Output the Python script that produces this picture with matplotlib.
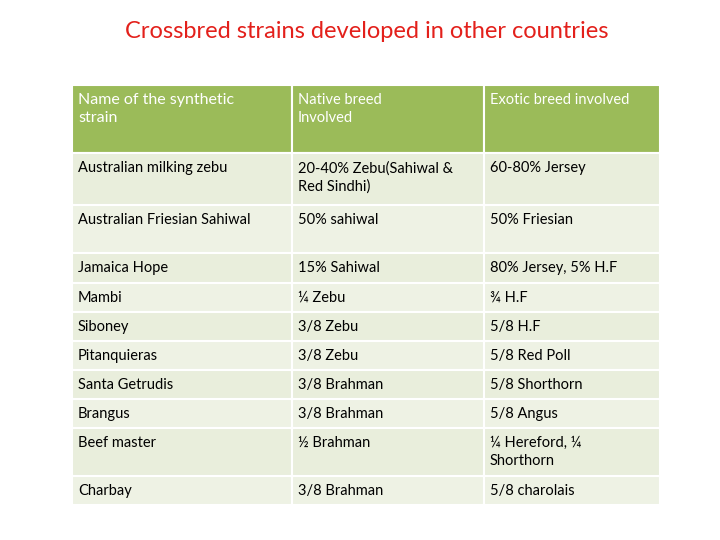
import matplotlib.pyplot as plt
from matplotlib.patches import Rectangle

title = 'Crossbred strains developed in other countries'
headers = ['Name of the synthetic\nstrain', 'Native breed\nInvolved', 'Exotic breed involved']
strains = ['Australian milking zebu', 'Australian Friesian Sahiwal', 'Jamaica Hope', 'Mambi',
           'Siboney', 'Pitanquieras', 'Santa Getrudis', 'Brangus', 'Beef master', 'Charbay']
native = ['20-40% Zebu(Sahiwal &\nRed Sindhi)', '50% sahiwal', '15% Sahiwal', '¼ Zebu',
          '3/8 Zebu', '3/8 Zebu', '3/8 Brahman', '3/8 Brahman', '½ Brahman', '3/8 Brahman']
exotic = ['60-80% Jersey', '50% Friesian', '80% Jersey, 5% H.F', '¾ H.F', '5/8 H.F',
          '5/8 Red Poll', '5/8 Shorthorn', '5/8 Angus', '¼ Hereford, ¼\nShorthorn', '5/8 charolais']

# layout in pixels
col_x = [72, 292, 484, 660]
row_y = [85, 153, 205, 253, 283, 312, 341, 370, 399, 428, 476, 505]

plt.rcParams['font.family'] = ['Lato', 'DejaVu Sans']
fig = plt.figure(figsize=(7.2, 5.4), dpi=100)
ax = fig.add_axes([0, 0, 1, 1])
ax.set_xlim(0, 720)
ax.set_ylim(540, 0)
ax.axis('off')

ax.text(367, 31, title, color='#E3201B', fontsize=17, ha='center', va='center')

rows = [headers] + [[s, n, e] for s, n, e in zip(strains, native, exotic)]
for r, cells in enumerate(rows):
    y0, y1 = row_y[r], row_y[r + 1]
    face = '#9BBB59' if r == 0 else ('#E9EEDC' if r % 2 else '#EEF2E4')
    for c, txt in enumerate(cells):
        x0, x1 = col_x[c], col_x[c + 1]
        ax.add_patch(Rectangle((x0, y0), x1 - x0, y1 - y0, facecolor=face,
                               edgecolor='white', linewidth=1.5))
        ax.text(x0 + 6, y0 + 8, txt, va='top', ha='left',
                fontsize=11.5 if (r == 0 and c == 0) else 10.5,
                color='white' if r == 0 else 'black', linespacing=1.35)

fig.savefig('out.png', dpi=100)
